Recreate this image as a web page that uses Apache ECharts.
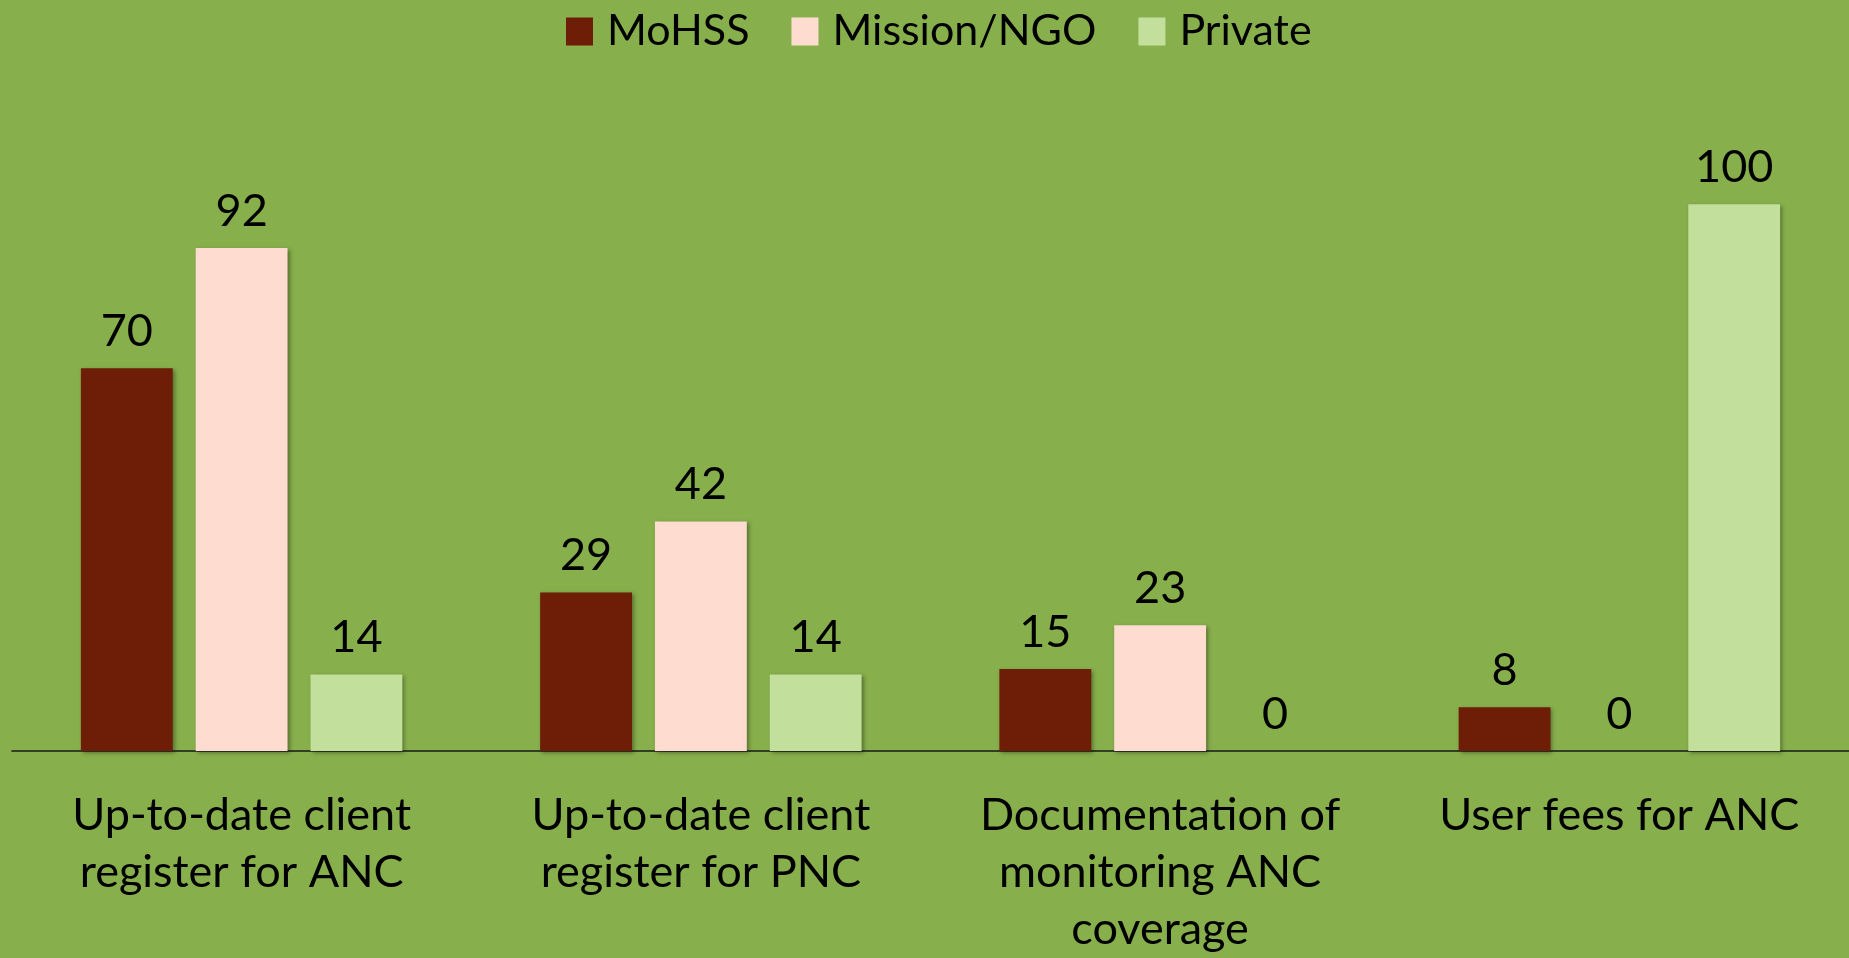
<!DOCTYPE html>
<html lang="en">
  <head>
    <meta charset="utf-8" />
    <title>ANC / PNC documentation by facility type</title>
    <script
      type="text/javascript"
      src="https://cdn.jsdelivr.net/npm/echarts@6/dist/echarts.min.js"
    ></script>
    <style type="text/css">
      * {
        margin: 0;
        padding: 0;
      }
      html,
      body,
      #chart {
        width: 100%;
        height: 100%;
        overflow: hidden;
        background: #87af4c;
      }
    </style>
  </head>
  <body>
    <div id="chart"></div>
    <script type="text/javascript">
      // categories (x axis)
      var categories = [
        "Up-to-date client\nregister for ANC",
        "Up-to-date client\nregister for PNC",
        "Documentation of\nmonitoring ANC\ncoverage",
        "User fees for ANC",
      ];
      var seriesNames = ["MoHSS", "Mission/NGO", "Private"];
      // values in percent
      var mohss = [70, 29, 15, 8];
      var missionNgo = [92, 42, 23, 0];
      var privateSector = [14, 14, 0, 100];

      var colors = ["#6e1d07", "#ffdcd0", "#c2e09c"];
      var font = "Lato";

      var chart = echarts.init(document.getElementById("chart"));

      function barSeries(name, data, idx) {
        return {
          name: name,
          type: "bar",
          data: data,
          barWidth: "20%",
          barGap: "25%",
          itemStyle: {
            color: colors[idx],
            shadowColor: "rgba(0,0,0,0.35)",
            shadowBlur: 4,
            shadowOffsetX: 2,
            shadowOffsetY: 2,
          },
          label: {
            show: true,
            position: "top",
            distance: 14,
            color: "#000",
            fontFamily: font,
            fontSize: 45,
          },
        };
      }

      chart.setOption({
        backgroundColor: "#87af4c",
        animation: false,
        legend: {
          top: 5,
          left: 561,
          itemWidth: 27,
          itemHeight: 28,
          itemGap: 42,
          icon: "rect",
          textStyle: {
            color: "#000",
            fontFamily: font,
            fontSize: 43,
            padding: [0, 0, 0, 9],
          },
          data: seriesNames,
        },
        grid: {
          left: 12,
          right: 0,
          top: 95,
          bottom: 202,
          containLabel: false,
        },
        xAxis: {
          type: "category",
          data: categories,
          axisLine: { lineStyle: { color: "#1a1a1a", width: 1.5 } },
          axisTick: { show: false },
          axisLabel: {
            color: "#000",
            fontFamily: font,
            fontSize: 45,
            lineHeight: 57,
            margin: 36,
            interval: 0,
          },
        },
        yAxis: {
          type: "value",
          min: 0,
          max: 120,
          show: false,
          splitLine: { show: false },
        },
        series: [
          barSeries(seriesNames[0], mohss, 0),
          barSeries(seriesNames[1], missionNgo, 1),
          barSeries(seriesNames[2], privateSector, 2),
        ],
      });
    </script>
  </body>
</html>
